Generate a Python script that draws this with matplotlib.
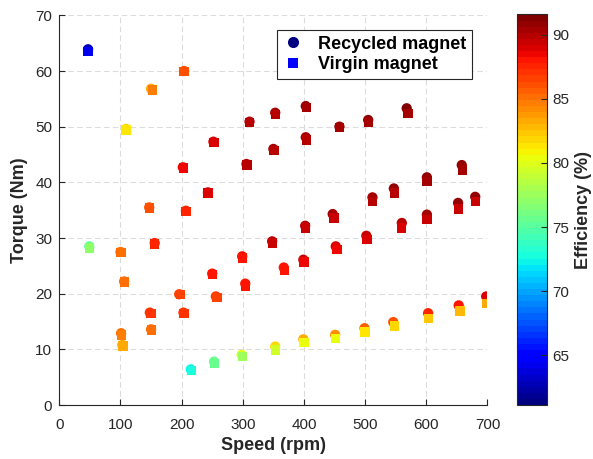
import numpy as np
import matplotlib
matplotlib.use('Agg')
from matplotlib import pyplot as plt
from matplotlib.lines import Line2D

plt.rcParams['font.family'] = ['Liberation Sans', 'DejaVu Sans']

## Data: speed (rpm), torque (Nm), efficiency (%)
speed_rec = [47, 204, 150, 109, 311, 353, 403, 458, 505, 568, 252, 202, 350, 306, 403,
             243, 147, 207, 658, 601, 547, 512, 680, 652, 601, 447, 560, 402, 348, 502,
             452, 399, 367, 49, 100, 156, 299, 250, 106, 196, 256, 304, 148, 203, 150,
             101, 103, 215, 253, 298, 353, 399, 451, 499, 546, 603, 653, 698]
torque_rec = [63.9, 60.0, 56.8, 49.6, 50.9, 52.5, 53.7, 50.0, 51.2, 53.3, 47.3, 42.7, 46.0, 43.3, 48.1,
              38.2, 35.5, 34.9, 43.1, 40.9, 38.9, 37.3, 37.4, 36.3, 34.2, 34.3, 32.7, 32.2, 29.4, 30.4,
              28.5, 26.1, 24.7, 28.5, 27.5, 29.1, 26.7, 23.6, 22.2, 19.9, 19.5, 21.8, 16.6, 16.6, 13.6,
              12.9, 10.8, 6.4, 7.8, 9.0, 10.5, 11.8, 12.6, 13.8, 14.9, 16.5, 17.9, 19.5]
eff_rec = [63.0, 85.9, 83.4, 81.6, 90.0, 90.5, 91.0, 90.8, 91.0, 91.2, 89.2, 88.5, 90.2, 90.0, 90.5,
           89.0, 86.0, 87.5, 91.0, 91.0, 90.8, 90.2, 91.0, 91.0, 90.5, 90.5, 90.0, 90.0, 89.8, 89.5,
           89.0, 89.3, 88.2, 75.2, 85.0, 87.5, 88.3, 88.0, 85.3, 86.8, 87.0, 88.0, 86.9, 87.2, 85.0,
           85.0, 83.4, 72.4, 75.4, 80.0, 81.9, 83.4, 84.0, 85.7, 85.9, 87.5, 88.2, 89.0]

speed_vir = [47, 204, 152, 109, 311, 353, 404, 458, 506, 570, 253, 203, 351, 307, 404,
             243, 148, 207, 659, 601, 548, 512, 681, 653, 601, 449, 560, 402, 349, 503,
             454, 400, 368, 49, 101, 156, 300, 251, 107, 198, 258, 304, 150, 204, 151,
             102, 104, 216, 254, 299, 354, 400, 452, 500, 548, 604, 655, 699]
torque_vir = [63.5, 59.9, 56.6, 49.4, 50.7, 52.2, 53.4, 49.8, 50.8, 52.4, 47.2, 42.6, 45.7, 43.1, 47.6,
              38.1, 35.4, 34.8, 42.2, 40.1, 38.1, 36.6, 36.6, 35.2, 33.3, 33.6, 31.8, 31.8, 29.1, 29.7,
              27.9, 25.7, 24.2, 28.2, 27.4, 28.9, 26.4, 23.4, 22.1, 19.8, 19.3, 21.4, 16.5, 16.5, 13.5,
              12.6, 10.6, 6.2, 7.5, 8.7, 9.9, 11.2, 12.0, 13.1, 14.2, 15.6, 16.9, 18.2]
eff_vir = [64.2, 85.9, 84.7, 81.3, 89.8, 90.0, 90.5, 90.3, 90.5, 90.5, 89.0, 88.5, 90.0, 89.8, 90.0,
           88.8, 86.0, 87.5, 90.2, 90.2, 89.8, 89.8, 89.5, 89.5, 89.5, 89.5, 89.0, 89.5, 89.5, 89.0,
           88.5, 88.5, 88.0, 77.3, 85.0, 87.5, 88.0, 87.8, 85.3, 86.8, 86.8, 87.8, 86.9, 87.2, 85.0,
           84.7, 83.4, 72.6, 75.8, 77.7, 79.6, 80.6, 80.4, 81.2, 81.9, 82.5, 83.0, 83.4]

##Plot##
fig = plt.figure(figsize=(5.93, 4.59), dpi=100)
ax = fig.add_axes([0.1, 0.1176, 0.722, 0.849])
cax = fig.add_axes([0.872, 0.1176, 0.0506, 0.851])

cmap = plt.get_cmap('jet', 64)
vmin, vmax = 61.1, 91.6
tc = '#262626'

ax.grid(True, linestyle=(0, (5, 3)), color='#dcdcdc', linewidth=0.8, zorder=0)
sc = ax.scatter(speed_rec, torque_rec, c=eff_rec, cmap=cmap, vmin=vmin, vmax=vmax,
                marker='o', s=55, linewidths=0, zorder=2)
ax.scatter(speed_vir, torque_vir, c=eff_vir, cmap=cmap, vmin=vmin, vmax=vmax,
           marker='s', s=45, linewidths=0, zorder=3)

ax.set_xlim(0, 700)
ax.set_ylim(0, 70)
ax.set_xticks(np.arange(0, 701, 100))
ax.set_yticks(np.arange(0, 71, 10))
ax.tick_params(direction='in', length=4, labelsize=11, color=tc, labelcolor=tc)
ax.tick_params(axis='x', pad=9)
ax.tick_params(axis='y', pad=5)
ax.spines['top'].set_visible(False)
ax.spines['right'].set_visible(False)
for s in ['left', 'bottom']:
    ax.spines[s].set_color(tc)
ax.set_axisbelow(True)

ax.set_xlabel('Speed (rpm)', fontsize=13, fontweight='bold', color=tc, labelpad=4)
ax.set_ylabel('Torque (Nm)', fontsize=13, fontweight='bold', color=tc, labelpad=5)

handles = [Line2D([], [], linestyle='none', marker='o', markersize=8, color=cmap(0.0), markeredgewidth=0),
           Line2D([], [], linestyle='none', marker='s', markersize=7, color=cmap(0.12), markeredgewidth=0)]
leg = ax.legend(handles, ['Recycled magnet', 'Virgin magnet'], loc='upper right',
                bbox_to_anchor=(0.964, 0.962), borderaxespad=0, prop={'weight': 'bold', 'size': 13},
                fancybox=False, framealpha=1, edgecolor=tc, handlelength=1.2, handletextpad=0.8,
                borderpad=0.3, labelspacing=0.2)
leg.get_frame().set_linewidth(0.8)

cb = fig.colorbar(sc, cax=cax)
cb.set_ticks([65, 70, 75, 80, 85, 90])
cb.ax.tick_params(direction='in', length=4, labelsize=11, color=tc, labelcolor=tc)
cb.outline.set_edgecolor(tc)
cb.set_label('Efficiency (%)', fontsize=13, fontweight='bold', color=tc, labelpad=4)

fig.savefig('out.png', dpi=100)
